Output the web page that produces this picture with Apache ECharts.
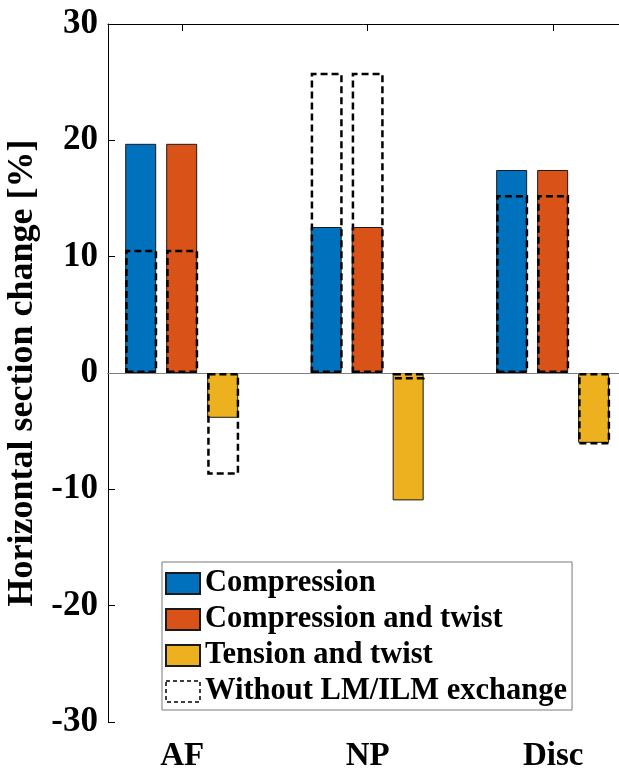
<!DOCTYPE html>
<html><head><meta charset="utf-8">
<script src="https://cdn.jsdelivr.net/npm/echarts@6/dist/echarts.min.js"></script>
<style>html,body{margin:0;padding:0;background:#fff}#c{width:619px;height:769px}</style>
</head><body><div id="c"></div>
<script>
const categories = ['AF', 'NP', 'Disc'];
const compression = [19.7, 12.55, 17.45];
const compressionTwist = [19.7, 12.55, 17.45];
const tensionTwist = [-3.85, -10.95, -6.0];
const withoutCompression = [10.6, 25.8, 15.3];
const withoutCompressionTwist = [10.6, 25.8, 15.3];
const withoutTensionTwist = [-8.75, -0.55, -6.15];
const yTicks = [-30, -20, -10, 0, 10, 20, 30];
const seriesNames = ['Compression', 'Compression and twist', 'Tension and twist', 'Without LM/ILM exchange'];
const colors = ['#0072BD', '#D95319', '#EDB120'];

const FONT = "'Liberation Serif', 'Times New Roman', serif";
const groupOffsets = [-0.221, 0, 0.221];
const catPos = categories.map((c, i) => i + 1);
function pts(vals, k) { return vals.map((v, i) => [catPos[i] + groupOffsets[k], v]); }

const chart = echarts.init(document.getElementById('c'), null, { renderer: 'canvas' });

function coloredBar(name, vals, k, extra) {
  return Object.assign({
    name: name, type: 'bar', data: pts(vals, k), barWidth: 31, barGap: '-100%',
    itemStyle: { color: colors[k], borderColor: '#1a1a1a', borderWidth: 1 },
    z: 2, animation: false
  }, extra || {});
}

const option = {
  animation: false,
  backgroundColor: '#fff',
  grid: { left: 108, right: 0, top: 24, bottom: 47, outerBoundsMode: 'none', containLabel: false },
  xAxis: [{
    type: 'value', min: 0.6, max: 3.355, position: 'bottom',
    axisLine: { show: true, lineStyle: { color: '#000', width: 1 } },
    axisTick: { show: true, inside: true, length: 7, lineStyle: { color: '#000' }, customValues: catPos },
    axisLabel: { show: true, customValues: catPos, formatter: v => categories[Math.round(v) - 1] || '',
      fontFamily: FONT, fontWeight: 'bold', fontSize: 33, color: '#000', margin: 18 },
    splitLine: { show: false }
  }, {
    type: 'value', min: 0.6, max: 3.355, position: 'top',
    axisLine: { show: true, lineStyle: { color: '#000', width: 1 } },
    axisTick: { show: true, inside: true, length: 7, lineStyle: { color: '#000' }, customValues: catPos },
    axisLabel: { show: false }, splitLine: { show: false }
  }],
  yAxis: {
    type: 'value', min: yTicks[0], max: yTicks[yTicks.length - 1], interval: 10,
    name: 'Horizontal section change [%]', nameLocation: 'middle', nameGap: 57, nameRotate: 90,
    nameTextStyle: { fontFamily: FONT, fontWeight: 'bold', fontSize: 36, color: '#000' },
    axisLine: { show: true, lineStyle: { color: '#000', width: 1 } },
    axisTick: { show: true, inside: true, length: 7, lineStyle: { color: '#000' } },
    axisLabel: { fontFamily: FONT, fontWeight: 'bold', fontSize: 35, color: '#000', margin: 10 },
    splitLine: { show: false }
  },
  legend: {
    orient: 'vertical', left: 162, top: 562,
    data: [
      { name: seriesNames[0] }, { name: seriesNames[1] }, { name: seriesNames[2] },
      { name: seriesNames[3], itemStyle: { color: '#fff', borderColor: '#000', borderWidth: 1.5, borderType: [4, 3] } }
    ],
    icon: 'rect',
    itemWidth: 34, itemHeight: 21, itemGap: 5,
    padding: [6, 5, 3, 3],
    borderColor: '#7a7a7a', borderWidth: 1, backgroundColor: '#fff',
    textStyle: { fontFamily: FONT, fontWeight: 'bold', fontSize: 30.5, color: '#000' },
    selectedMode: false
  },
  series: [
    coloredBar(seriesNames[0], compression, 0, {
      markLine: { silent: true, symbol: 'none', animation: false, label: { show: false },
        lineStyle: { color: '#7f7f7f', width: 1, type: 'solid' }, data: [{ yAxis: 0 }] }
    }),
    coloredBar(seriesNames[1], compressionTwist, 1),
    coloredBar(seriesNames[2], tensionTwist, 2),
    {
      name: seriesNames[3], type: 'bar', barWidth: 32, barGap: '-100%', z: 5, animation: false,
      data: [].concat(pts(withoutCompression, 0), pts(withoutCompressionTwist, 1), pts(withoutTensionTwist, 2)),
      itemStyle: { color: 'rgba(255,255,255,0)', borderColor: '#000', borderWidth: 2.5, borderType: [7, 4] }
    }
  ]
};
chart.setOption(option);
</script></body></html>
